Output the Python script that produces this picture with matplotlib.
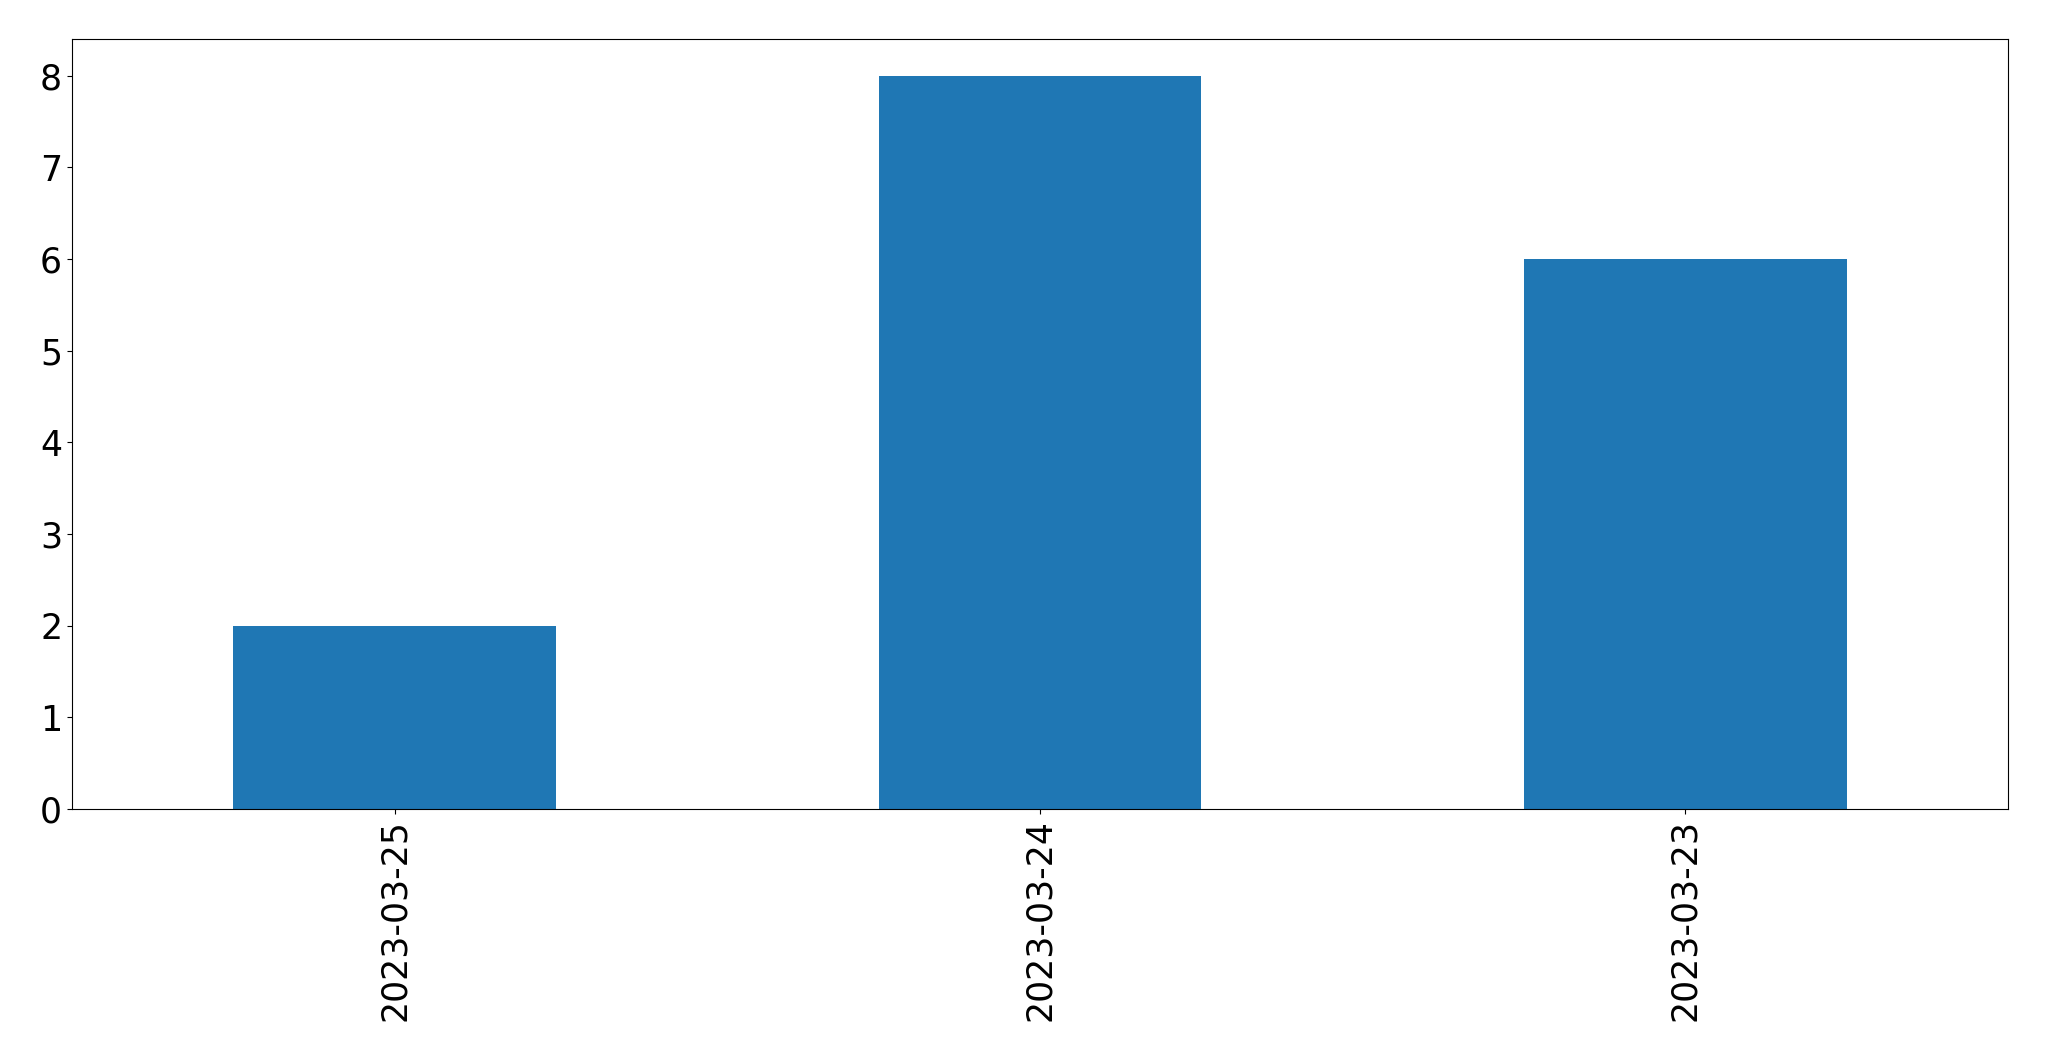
import matplotlib
matplotlib.use('Agg')
import matplotlib.pyplot as plt
import pandas as pd

dates = ['2023-03-25', '2023-03-24', '2023-03-23']
counts = [2, 8, 6]

fig = plt.figure(figsize=(20.49, 10.61), dpi=100)
ax = fig.add_axes([0.0351, 0.2375, 0.9449, 0.7257])
pd.Series(counts, index=dates).plot(kind='bar', ax=ax, color='#1f77b4')
ax.tick_params(labelsize=25)
for lbl in ax.get_xticklabels():
    lbl.set_rotation(90)
fig.savefig('out.png', dpi=100)
